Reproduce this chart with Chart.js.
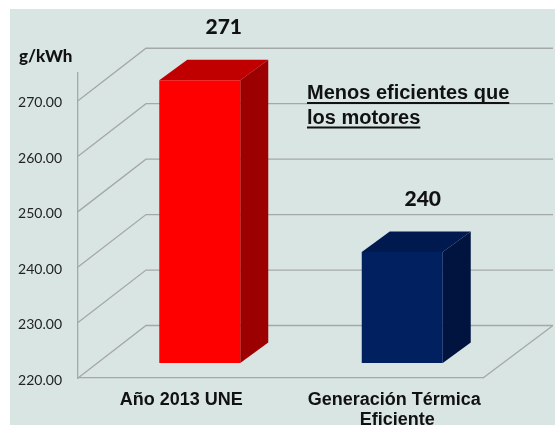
<!DOCTYPE html>
<html>
<head>
<meta charset="utf-8">
<style>
  html, body { margin: 0; padding: 0; background: #fff; }
  #wrap { width: 555px; height: 425px; }
</style>
<script src="https://cdn.jsdelivr.net/npm/chart.js@4/dist/chart.umd.min.js"></script>
</head>
<body>
<div id="wrap"><canvas id="chart" width="555" height="425"></canvas></div>
<script>
const categories = [["Año 2013 UNE"], ["Generación Térmica", "Eficiente"]];
const values = [271, 240];
const valueLabels = ["271", "240"];
const barColors = ["#ff0000", "#002060"];
const topColors = ["#c00000", "#001a4f"];
const sideColors = ["#9c0000", "#00143f"];
const tickValues = [220, 230, 240, 250, 260, 270];
const note = ["Menos eficientes que", "los motores"];

const gridColor = "#a4a9a8";
// depth of the 3d box: back wall offset and where the bars stand on the floor
const wall = { dx: 68, dxRight: 70, dy: -52.5 };
const barPlane = { dx: 20.5, dy: -15 };
const barDepth = { dx: 28, dy: -20.5 };
const catLabelDx = [2, 12.5];
const valueLabelDx = [24, 20.5];

const scene = {
  id: "scene",
  beforeDraw(chart) {
    const { ctx, width, height, scales: { x, y }, chartArea: a } = chart;
    ctx.save();
    ctx.fillStyle = "#d9e5e3";
    ctx.fillRect(10, 9, width - 10, height - 9);

    // wall lines
    ctx.strokeStyle = gridColor;
    ctx.lineWidth = 1.3;
    ctx.beginPath();
    tickValues.forEach((v) => {
      const py = y.getPixelForValue(v);
      ctx.moveTo(a.left, py);
      ctx.lineTo(a.left + wall.dx, py + wall.dy);
      ctx.lineTo(a.right + wall.dxRight, py + wall.dy);
    });
    ctx.moveTo(a.right, a.bottom);
    ctx.lineTo(a.right + wall.dxRight, a.bottom + wall.dy);
    ctx.stroke();

    ctx.fillStyle = "#111";
    ctx.font = "900 17px Lato";
    ctx.textAlign = "left";
    ctx.textBaseline = "alphabetic";
    ctx.fillText("g/kWh", 19, 62);
    ctx.restore();
  },
  beforeDatasetsDraw(chart) {
    const { ctx } = chart;
    ctx.save();
    ctx.translate(barPlane.dx, barPlane.dy);
    chart.getDatasetMeta(0).data.forEach((bar, i) => {
      const l = bar.x - bar.width / 2;
      const r = bar.x + bar.width / 2;
      const d = barDepth;
      ctx.fillStyle = topColors[i];
      ctx.beginPath();
      ctx.moveTo(l, bar.y);
      ctx.lineTo(l + d.dx, bar.y + d.dy);
      ctx.lineTo(r + d.dx, bar.y + d.dy);
      ctx.lineTo(r, bar.y);
      ctx.fill();
      ctx.fillStyle = sideColors[i];
      ctx.beginPath();
      ctx.moveTo(r, bar.y);
      ctx.lineTo(r + d.dx, bar.y + d.dy);
      ctx.lineTo(r + d.dx, bar.base + d.dy);
      ctx.lineTo(r, bar.base);
      ctx.fill();
    });
  },
  afterDatasetsDraw(chart) {
    const { ctx, scales: { x } } = chart;
    ctx.restore();

    ctx.save();
    ctx.textAlign = "center";
    ctx.textBaseline = "alphabetic";
    chart.getDatasetMeta(0).data.forEach((bar, i) => {
      ctx.fillStyle = "#111";
      ctx.font = "900 21px Lato";
      ctx.fillText(valueLabels[i], bar.x + barPlane.dx + valueLabelDx[i], bar.y + barPlane.dy - 46.5);
      ctx.font = "bold 18px 'Liberation Sans'";
      categories[i].forEach((line, j) => {
        const off = j === 1 ? 3 : 0;
        ctx.fillText(line, x.getPixelForValue(i) + catLabelDx[i] + off, 405 + j * 20);
      });
    });

    // annotation, underlined
    ctx.textAlign = "left";
    ctx.font = "bold 20px 'Liberation Sans'";
    ctx.fillStyle = "#111";
    note.forEach((line, j) => {
      const by = 99 + j * 24.5;
      ctx.fillText(line, 307, by);
      ctx.fillRect(307, by + 3, ctx.measureText(line).width, 2);
    });
    ctx.restore();
  }
};

new Chart(document.getElementById("chart"), {
  type: "bar",
  data: {
    labels: categories,
    datasets: [{
      data: values,
      backgroundColor: barColors,
      base: 220,
      barPercentage: 0.4,
      categoryPercentage: 1,
      clip: false
    }]
  },
  options: {
    responsive: false,
    animation: false,
    layout: { padding: { left: 0, right: 72, top: 73, bottom: 47 } },
    plugins: { legend: { display: false }, tooltip: { enabled: false }, title: { display: false } },
    scales: {
      x: {
        grid: { display: false, drawTicks: false },
        border: { color: gridColor, width: 1.3 },
        ticks: { display: false },
        afterFit: (s) => { s.height = 0; }
      },
      y: {
        min: 220,
        max: 275,
        grid: { display: false, drawTicks: false },
        border: { color: gridColor, width: 1.3 },
        ticks: {
          stepSize: 10,
          includeBounds: false,
          padding: 16,
          labelOffset: 2,
          color: "#222",
          font: { family: "Lato", size: 14 },
          callback: (v) => Number(v).toFixed(2)
        },
        afterFit: (s) => { s.width = 78; }
      }
    }
  },
  plugins: [scene]
});
</script>
</body>
</html>
